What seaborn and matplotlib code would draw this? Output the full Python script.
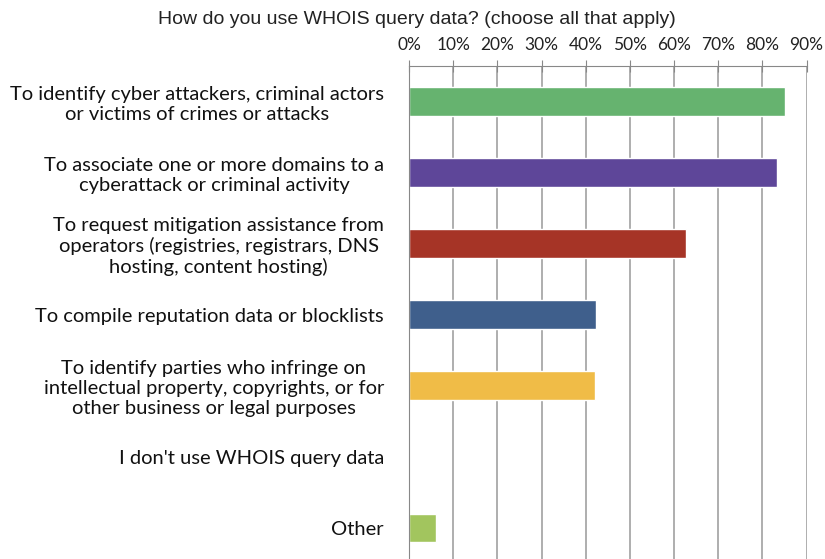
import matplotlib
matplotlib.use("Agg")
import matplotlib.pyplot as plt
import seaborn as sns
import pandas as pd
from matplotlib.ticker import FixedLocator, PercentFormatter

# survey answers, top to bottom
uses = [
    "To identify cyber attackers, criminal actors\nor victims of crimes or attacks",
    "To associate one or more domains to a\ncyberattack or criminal activity",
    "To request mitigation assistance from\noperators (registries, registrars, DNS\nhosting, content hosting)",
    "To compile reputation data or blocklists",
    "To identify parties who infringe on\nintellectual property, copyrights, or for\nother business or legal purposes",
    "I don't use WHOIS query data",
    "Other",
]
share = [85.1, 83.4, 62.8, 42.4, 42.1, 0.0, 6.0]
bar_colors = ["#66B36F", "#5E4699", "#A63426", "#3F5F8C", "#F0BC47", "#FFFFFF", "#A2C55E"]

df = pd.DataFrame({"use": uses, "share": share})

sns.set_style("white")
fig = plt.figure(figsize=(8.25, 5.59), dpi=100)
ax = fig.add_axes([409 / 825, 0.0, (806.5 - 409) / 825, (559 - 66) / 559])

sns.barplot(data=df, y="use", x="share", hue="use", palette=bar_colors,
            order=uses, width=0.4, legend=False, ax=ax, saturation=1)

ax.set_xlim(0, 90)
ax.set_ylim(6.44, -0.5)
ax.xaxis.tick_top()
ax.xaxis.set_major_locator(FixedLocator(range(0, 91, 10)))
ax.xaxis.set_major_formatter(PercentFormatter(decimals=0))
ax.tick_params(axis="x", direction="inout", length=9, color="#888888", labelsize=12.5,
               pad=5, labelcolor="#222222")
for lab in ax.get_xticklabels():
    lab.set_family("Lato")

ax.grid(axis="x", color="#999999", linewidth=1.1)
ax.set_axisbelow(True)
for side in ["right", "bottom"]:
    ax.spines[side].set_visible(False)
ax.spines["top"].set_color("#888888")
ax.spines["left"].set_color("#888888")

# category separators on the left spine
ax.set_yticks(range(len(uses)))
ax.set_yticks([i + 0.5 for i in range(len(uses) - 1)], minor=True)
ax.tick_params(axis="y", which="major", length=0, pad=18, labelsize=14.5, labelcolor="#111111")
ax.tick_params(axis="y", which="minor", length=5, color="#888888", direction="out")
for lab in ax.get_yticklabels():
    lab.set_family("Lato")
    lab.set_multialignment("center")
ax.set_xlabel("")
ax.set_ylabel("")

fig.text(417 / 825, 1 - 19 / 559, "How do you use WHOIS query data? (choose all that apply)",
         ha="center", va="center", fontsize=14, family="Liberation Sans", color="#222222")

fig.savefig("out.png", dpi=100)
